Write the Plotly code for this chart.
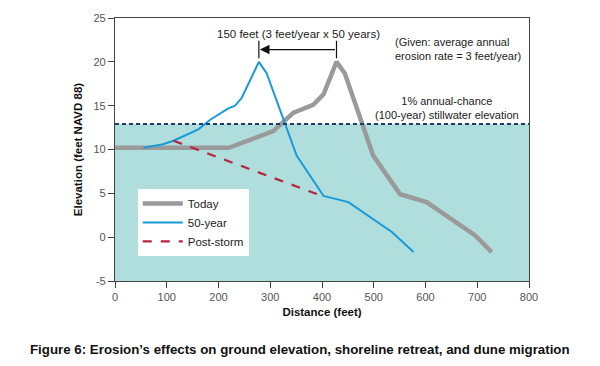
import plotly.graph_objects as go

today_x = [0, 220, 306, 345, 383, 403, 428, 444, 499, 551, 602, 696, 728]
today_y = [10.2, 10.2, 12.1, 14.2, 15.1, 16.3, 20.0, 18.7, 9.3, 4.9, 4.0, 0.2, -1.7]

y50_x = [55, 93, 113, 161, 184, 219, 232, 245, 278, 293, 351, 403, 451, 535, 577]
y50_y = [10.2, 10.6, 11.0, 12.3, 13.4, 14.7, 15.0, 15.9, 20.0, 18.7, 9.3, 4.7, 4.0, 0.6, -1.7]

storm_x = [113, 400]
storm_y = [11.0, 4.7]

stillwater = 12.9
x_ticks = [0, 100, 200, 300, 400, 500, 600, 700, 800]
y_ticks = [-5, 0, 5, 10, 15, 20, 25]
y_ticktext = ["-5", "0", "5", "10", "15", "20", "25"]

fig = go.Figure()
fig.add_trace(go.Scatter(x=today_x, y=today_y, mode="lines", name="Today",
                         line=dict(color="#9a9a9a", width=4.5)))
fig.add_trace(go.Scatter(x=y50_x, y=y50_y, mode="lines", name="50-year",
                         line=dict(color="#1a9ad8", width=2)))
fig.add_trace(go.Scatter(x=storm_x, y=storm_y, mode="lines", name="Post-storm",
                         line=dict(color="#b3263f", width=2.2, dash="dash")))

fig.add_shape(type="rect", xref="x", yref="y", x0=0, x1=800, y0=-5, y1=stillwater,
              fillcolor="#b0dedc", line=dict(width=0), layer="below")
fig.add_shape(type="line", xref="x", yref="y", x0=0, x1=800, y0=stillwater, y1=stillwater,
              line=dict(color="#1d3b6b", width=2, dash="4px,3px"))

# arrow
fig.add_annotation(x=280, y=21.4, ax=428, ay=21.4, xref="x", yref="y", axref="x", ayref="y",
                   text="", showarrow=True, arrowhead=2, arrowsize=1.6, arrowwidth=1.2, arrowcolor="#111")
fig.add_shape(type="line", x0=278, x1=278, y0=20.4, y1=22.4, line=dict(color="#111", width=1.2))
fig.add_shape(type="line", x0=428, x1=428, y0=20.4, y1=22.4, line=dict(color="#111", width=1.2))

fig.add_annotation(x=354, y=23.2, xref="x", yref="y", text="150 feet (3 feet/year x 50 years)",
                   showarrow=False, font=dict(size=11.5, color="#222"))
fig.add_annotation(x=663, y=21.5, xref="x", yref="y", xanchor="center",
                   text="(Given: average annual<br>erosion rate = 3 feet/year)",
                   showarrow=False, align="left", font=dict(size=11, color="#222"))
fig.add_annotation(x=641, y=14.7, xref="x", yref="y",
                   text="1% annual-chance<br>(100-year) stillwater elevation",
                   showarrow=False, align="center", font=dict(size=11, color="#222"))

fig.update_layout(
    width=600, height=366,
    margin=dict(l=115, r=71, t=16, b=85),
    plot_bgcolor="white", paper_bgcolor="white",
    font=dict(family="Liberation Sans, Arial", size=11, color="#555"),
    showlegend=True,
    legend=dict(x=0.055, y=0.35, xanchor="left", yanchor="top", bgcolor="white",
                borderwidth=0, font=dict(size=11.5, color="#222"), tracegroupgap=2,
                itemwidth=40),
    xaxis=dict(range=[0, 800], tickvals=x_ticks, showgrid=False, zeroline=False,
               showline=True, linecolor="#444", linewidth=1.2, mirror=True,
               ticks="outside", ticklen=6, tickcolor="#444",
               title=dict(text="<b>Distance (feet)</b>", font=dict(size=11.5, color="#111"), standoff=5)),
    yaxis=dict(range=[-5, 25], tickvals=y_ticks, ticktext=y_ticktext, showgrid=False, zeroline=False,
               showline=True, linecolor="#444", linewidth=1.2, mirror=True,
               ticks="outside", ticklen=6, tickcolor="#444",
               title=dict(text="<b>Elevation (feet NAVD 88)</b>", font=dict(size=11.5, color="#111"), standoff=8)),
)

fig.add_annotation(x=0.5, y=-0.225, xref="paper", yref="paper", xanchor="center", yanchor="top",
                   xshift=-22,
                   text="<b>Figure 6: Erosion’s effects on ground elevation, shoreline retreat, and dune migration</b>",
                   showarrow=False, font=dict(family="Liberation Sans Narrow, Arial Narrow, Liberation Sans", size=13.3, color="#111"))

fig.write_html("out.html", config={"displayModeBar": False},
               post_script="document.body.style.margin='0';document.body.style.overflow='hidden';")
